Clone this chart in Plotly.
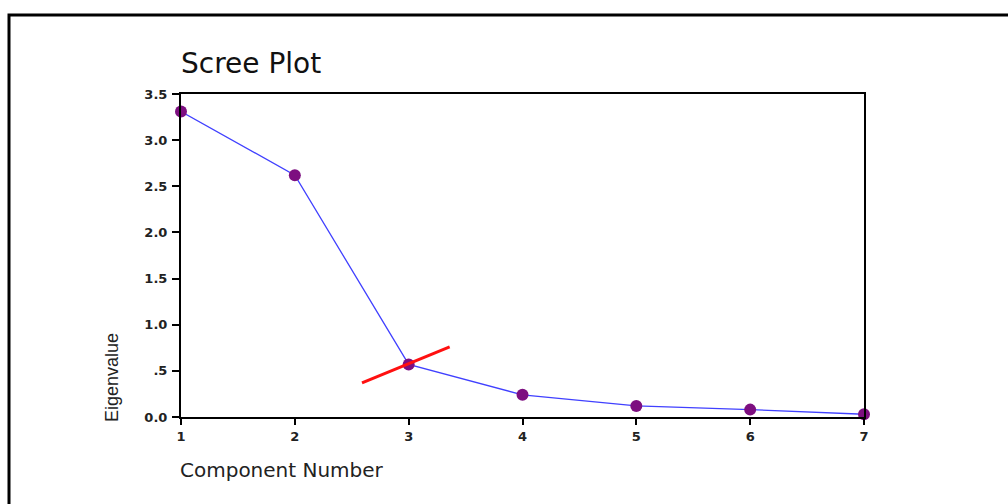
import plotly.graph_objects as go

# Eigenvalues by component
components = [1, 2, 3, 4, 5, 6, 7]
eigenvalues = [3.31, 2.62, 0.57, 0.24, 0.12, 0.08, 0.03]

# Elbow marker segment (component, eigenvalue)
elbow_x = [2.59, 3.36]
elbow_y = [0.37, 0.76]

y_tick_vals = [0.0, 0.5, 1.0, 1.5, 2.0, 2.5, 3.0, 3.5]
y_tick_text = ["0.0", ".5", "1.0", "1.5", "2.0", "2.5", "3.0", "3.5"]

W, H = 1008, 504
L, R, T, B = 181, 144, 94, 87
pw, ph = W - L - R, H - T - B


def px(x):
    return (x - L) / pw


def py(y):
    return (H - B - y) / ph


fig = go.Figure()
fig.add_trace(go.Scatter(
    x=components, y=eigenvalues, mode="lines+markers",
    line=dict(color="#4040ff", width=1.3),
    marker=dict(color="#7d0f80", size=12, symbol="circle"),
    cliponaxis=False, showlegend=False,
))
fig.add_trace(go.Scatter(
    x=elbow_x, y=elbow_y, mode="lines",
    line=dict(color="#ff1010", width=3),
    cliponaxis=False, showlegend=False,
))

axis_font = dict(family="DejaVu Sans, Verdana, sans-serif", size=13, color="#222",
                 weight="bold")
fig.update_xaxes(
    range=[1, 7], tickvals=components, ticks="outside", ticklen=6, tickwidth=2,
    tickcolor="black", showline=True, linecolor="black", linewidth=2, mirror=True,
    showgrid=False, zeroline=False, tickfont=axis_font,
)
fig.update_yaxes(
    range=[0, 3.5], tickvals=y_tick_vals, ticktext=y_tick_text, ticks="outside",
    ticklen=7, tickwidth=2, tickcolor="black", showline=True, linecolor="black",
    linewidth=2, mirror=True, showgrid=False, zeroline=False, tickfont=axis_font,
    ticklabelstandoff=2,
)

fig.update_layout(
    width=W, height=H,
    margin=dict(l=L, r=R, t=T, b=B),
    paper_bgcolor="white", plot_bgcolor="white",
    annotations=[
        dict(text="Scree Plot", x=px(179), y=py(63), xref="paper", yref="paper",
             xanchor="left", yanchor="middle", showarrow=False,
             font=dict(family="DejaVu Sans, Verdana, sans-serif", size=28, color="#111")),
        dict(text="Component Number", x=px(178), y=py(470), xref="paper", yref="paper",
             xanchor="left", yanchor="middle", showarrow=False,
             font=dict(family="DejaVu Sans, Verdana, sans-serif", size=20, color="#222")),
        dict(text="Eigenvalue", x=px(112), y=py(378), xref="paper", yref="paper",
             xanchor="center", yanchor="middle", textangle=-90, showarrow=False,
             font=dict(family="Liberation Sans, Arial, sans-serif", size=18, color="#222")),
    ],
    shapes=[
        dict(type="path", xref="paper", yref="paper",
             path=f"M {px(9)},{py(510)} L {px(9)},{py(15)} L {px(1012)},{py(15)}",
             line=dict(color="black", width=3)),
    ],
)

fig.write_html("out.html")
